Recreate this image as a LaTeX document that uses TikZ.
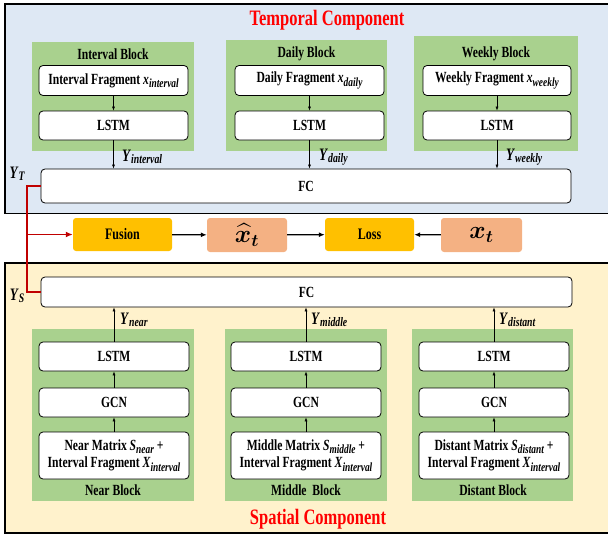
\documentclass[tikz,border=0pt]{standalone}
\usepackage{amsmath}
\usepackage{bm}
\usepackage{fontspec}
\setmainfont{Liberation Serif}[FakeStretch=0.75]
\usetikzlibrary{arrows.meta}

\definecolor{tblue}{HTML}{DEE8F4}
\definecolor{sgold}{HTML}{FFF2CC}
\definecolor{bgreen}{HTML}{A9D18E}
\definecolor{fgold}{HTML}{FFC000}
\definecolor{salmon}{HTML}{F4B183}
\definecolor{darkred}{HTML}{C00000}

% variable with a lowered italic subscript
\newcommand{\mvar}[2]{\textit{#1}\raisebox{-0.45ex}{\fontsize{12.5}{12}\selectfont\itshape #2}}
\newcommand{\yvar}[2]{{\fontsize{17.5}{17}\selectfont\textit{#1}}\raisebox{-0.5ex}{\fontsize{13}{13}\selectfont\itshape #2}}

\begin{document}
\begin{tikzpicture}[x=1pt,y=-1pt,
  panel/.style={draw=black, line width=1.6pt},
  grn/.style={fill=bgreen, draw=none, inner sep=0pt},
  wbox/.style={draw=black, line width=0.8pt, fill=white, rounded corners=4pt,
    inner sep=0pt, align=center, font=\fontsize{15.5}{17.5}\selectfont\bfseries},
  blk/.style={inner sep=0pt, font=\fontsize{15.5}{17}\selectfont\bfseries},
  ttl/.style={inner sep=0pt, text=red, font=\fontsize{22}{24}\selectfont\bfseries},
  ylab/.style={inner sep=0pt, font=\bfseries},
  gbox/.style={fill=fgold, rounded corners=3pt, inner sep=0pt,
    minimum height=33pt, font=\fontsize{16}{17}\selectfont\bfseries},
  sbox/.style={fill=salmon, rounded corners=3pt, inner sep=0pt,
    minimum height=34pt, font=\fontsize{23}{23}\selectfont},
  arr/.style={-{Latex[length=4pt,width=3pt]}, line width=0.6pt},
  bigarr/.style={-{Latex[length=6pt,width=5pt]}, line width=1.3pt},
  redl/.style={draw=darkred, line width=1.5pt},
  redarr/.style={redl, -{Latex[length=7pt,width=6pt]}}
]
\useasboundingbox (0,0) rectangle (608,535);

% component panels
\draw[panel, fill=tblue] (5,4) rectangle (620,213.5);
\draw[panel, fill=sgold] (5,263) rectangle (620,533);

\node[ttl] (ttemp) at (327,20) {Temporal Component};
\node[ttl] (tspat) at (318,519) {Spatial Component};

% temporal blocks
\node[grn, minimum width=162pt, minimum height=109pt] (gI) at (113,96.5) {};
\node[grn, minimum width=161pt, minimum height=111pt] (gD) at (306.5,95.5) {};
\node[grn, minimum width=164pt, minimum height=115pt] (gW) at (496,93.5) {};
\node[blk] (lI) at (113,54) {Interval Block};
\node[blk] (lD) at (306.5,54) {Daily Block};
\node[blk] (lW) at (496,54) {Weekly Block};

\node[wbox, minimum width=149pt, minimum height=30pt] (fI) at (113.5,80.5) {Interval Fragment \mvar{x}{interval}};
\node[wbox, minimum width=149pt, minimum height=29pt] (sI) at (113.5,125.5) {LSTM};
\node[wbox, minimum width=149pt, minimum height=30pt] (fD) at (309.5,80.5) {Daily Fragment \mvar{x}{daily}};
\node[wbox, minimum width=149pt, minimum height=29pt] (sD) at (309.5,125.5) {LSTM};
\node[wbox, minimum width=148pt, minimum height=30pt] (fW) at (497,80.5) {Weekly Fragment \mvar{x}{weekly}};
\node[wbox, minimum width=148pt, minimum height=29pt] (sW) at (497,125.5) {LSTM};

\node[wbox, minimum width=530pt, minimum height=34pt] (fcT) at (306,186) {FC};

\draw[arr] (fI) -- (sI);
\draw[arr] (fD) -- (sD);
\draw[arr] (fW) -- (sW);
\draw[arr] (sI.south) -- (sI.south |- fcT.north);
\draw[arr] (sD.south) -- (sD.south |- fcT.north);
\draw[arr] (sW.south) -- (sW.south |- fcT.north);
\node[ylab, anchor=west] (yI) at (122,157) {\yvar{Y}{interval}};
\node[ylab, anchor=west] (yD) at (319,157) {\yvar{Y}{daily}};
\node[ylab, anchor=west] (yW) at (506,157) {\yvar{Y}{weekly}};
\node[ylab] (yT) at (17,174) {\yvar{Y}{T}};

% fusion and loss row
\node[gbox, minimum width=99pt] (fus) at (122.5,234.5) {Fusion};
\node[sbox, minimum width=80pt] (xh) at (247,235) {$\bm{\widehat{x}_t}$};
\node[gbox, minimum width=89pt] (loss) at (369.5,234.5) {Loss};
\node[sbox, minimum width=81pt] (xt) at (481.5,235) {$\bm{x_t}$};
\draw[bigarr] (fus) -- (xh);
\draw[bigarr] (xh) -- (loss);
\draw[bigarr] (xt) -- (loss);

% spatial blocks
\node[wbox, minimum width=531pt, minimum height=30pt] (fcS) at (306.5,292) {FC};
\node[ylab] (yS) at (17,296) {\yvar{Y}{S}};

\node[grn, minimum width=162pt, minimum height=172pt] (gN) at (113,415) {};
\node[grn, minimum width=162pt, minimum height=172pt] (gM) at (306,415) {};
\node[grn, minimum width=161pt, minimum height=172pt] (gF) at (492.5,415) {};
\node[blk] (lN) at (113,490) {Near Block};
\node[blk] (lM) at (306,490) {Middle\ \ Block};
\node[blk] (lF) at (493,490) {Distant Block};

\node[wbox, minimum width=150pt, minimum height=29pt] (sN) at (114,356.5) {LSTM};
\node[wbox, minimum width=150pt, minimum height=29pt] (cN) at (114,402.5) {GCN};
\node[wbox, minimum width=150pt, minimum height=47pt] (mN) at (114,455.5)
  {Near Matrix \mvar{S}{near} +\\Interval Fragment \mvar{X}{interval}};
\node[wbox, minimum width=150pt, minimum height=29pt] (sM) at (306,356.5) {LSTM};
\node[wbox, minimum width=150pt, minimum height=29pt] (cM) at (306,402.5) {GCN};
\node[wbox, minimum width=150pt, minimum height=47pt] (mM) at (306,455.5)
  {Middle Matrix \mvar{S}{middle} +\\Interval Fragment \mvar{X}{interval}};
\node[wbox, minimum width=150pt, minimum height=29pt] (sF) at (494,356.5) {LSTM};
\node[wbox, minimum width=150pt, minimum height=29pt] (cF) at (494,402.5) {GCN};
\node[wbox, minimum width=150pt, minimum height=47pt] (mF) at (494,455.5)
  {Distant Matrix \mvar{S}{distant} +\\Interval Fragment \mvar{X}{interval}};

\foreach \b in {N,M,F}{
  \draw[arr] (m\b) -- (c\b);
  \draw[arr] (c\b) -- (s\b);
  \draw[arr] (s\b.north) -- (s\b.north |- fcS.south);
}
\node[ylab, anchor=west] (yN) at (120,320) {\yvar{Y}{near}};
\node[ylab, anchor=west] (yM) at (311,320) {\yvar{Y}{middle}};
\node[ylab, anchor=west] (yF) at (499,320) {\yvar{Y}{distant}};

% red fusion connector
\coordinate (rT) at (27,186);
\coordinate (rS) at (27,292);
\coordinate (rM) at (27,234.5);
\draw[redl] (fcT.west) -- (rT) -- (rS) -- (fcS.west);
\draw[redarr] (rM) -- (fus.west);
\end{tikzpicture}
\end{document}
